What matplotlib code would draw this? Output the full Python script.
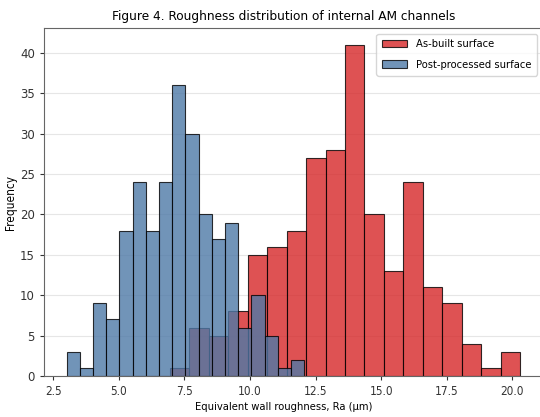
import numpy as np
import matplotlib
matplotlib.use("Agg")
import matplotlib.pyplot as plt

# Histogram counts per bin (18 bins each)
asbuilt_counts = [1, 6, 5, 8, 15, 16, 18, 27, 28, 41, 20, 13, 24, 11, 9, 4, 1, 3]
post_counts = [3, 1, 9, 7, 18, 24, 18, 24, 36, 30, 20, 17, 19, 6, 10, 5, 1, 2]

# Bin ranges (min, max) of Ra in µm
asbuilt_range = (6.95, 20.29)
post_range = (3.01, 12.06)

asbuilt_edges = np.linspace(*asbuilt_range, len(asbuilt_counts) + 1)
post_edges = np.linspace(*post_range, len(post_counts) + 1)

plt.rcParams["font.stretch"] = "condensed"

fig = plt.figure(figsize=(5.4, 4.17), dpi=100)
ax = fig.add_axes([0.0815, 0.0983, 0.93, 0.8337])

ax.hist(asbuilt_edges[:-1], bins=asbuilt_edges, weights=asbuilt_counts,
        color="tab:red", alpha=0.8, edgecolor="black", linewidth=0.8,
        label="As-built surface")
ax.hist(post_edges[:-1], bins=post_edges, weights=post_counts,
        color="#4e79a7", alpha=0.8, edgecolor="black", linewidth=0.8,
        label="Post-processed surface")

ax.set_xlim(2.146, 21.29)
ax.set_ylim(0, 43.05)
ax.set_xticks([2.5, 5.0, 7.5, 10.0, 12.5, 15.0, 17.5, 20.0])
ax.set_yticks(range(0, 45, 5))
ax.tick_params(labelsize=8.5, colors="#333333", length=3)
for lbl in ax.get_yticklabels():
    lbl.set_fontstretch("normal")
ax.yaxis.grid(True, color="#e6e6e6", linewidth=0.8)
ax.set_axisbelow(True)
for s in ax.spines.values():
    s.set_color("#666666")

ax.set_xlabel("Equivalent wall roughness, Ra (µm)", fontsize=8, labelpad=3,
              x=0.478)
ax.set_ylabel("Frequency", fontsize=8.5, labelpad=2)
ax.set_title("Figure 4. Roughness distribution of internal AM channels",
             fontsize=9.7, x=0.478)
ax.legend(loc="upper right", fontsize=8, bbox_to_anchor=(0.9936, 1.0),
          handlelength=2.3, labelspacing=0.95, borderpad=0.5)

fig.savefig("out.png", dpi=100)
